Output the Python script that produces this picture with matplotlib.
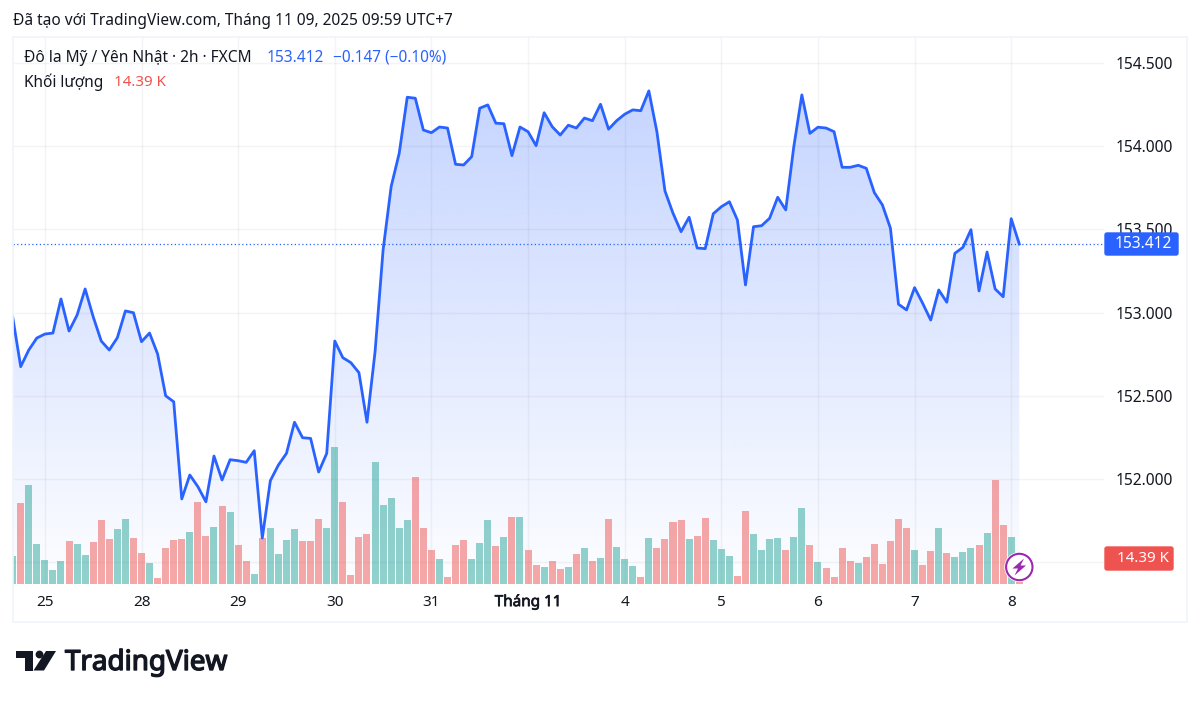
import numpy as np
import matplotlib
matplotlib.use("Agg")
import matplotlib.pyplot as plt
import matplotlib.patheffects as pe
from matplotlib.colors import to_rgb
from matplotlib.patches import Circle, FancyBboxPatch, Polygon, Rectangle

plt.rcParams['font.family'] = ['Noto Sans', 'DejaVu Sans']

# USD/JPY 2h closes
prices = [
    152.975, 152.675, 152.775, 152.847, 152.871, 152.877, 153.082, 152.889, 152.985, 153.142,
    152.975, 152.829, 152.775, 152.849, 153.010, 152.999, 152.825, 152.877, 152.751, 152.500,
    152.464, 151.880, 152.024, 151.954, 151.863, 152.138, 151.994, 152.116, 152.110, 152.100,
    152.170, 151.645, 151.990, 152.084, 152.154, 152.341, 152.248, 152.244, 152.042, 152.154,
    152.829, 152.729, 152.699, 152.639, 152.341, 152.763, 153.376, 153.757, 153.957, 154.294,
    154.288, 154.097, 154.081, 154.115, 154.109, 153.891, 153.887, 153.937, 154.228, 154.248,
    154.138, 154.135, 153.943, 154.115, 154.087, 154.003, 154.201, 154.117, 154.067, 154.126,
    154.109, 154.169, 154.153, 154.252, 154.102, 154.153, 154.192, 154.218, 154.213, 154.332,
    154.087, 153.731, 153.597, 153.486, 153.573, 153.388, 153.384, 153.594, 153.636, 153.666,
    153.556, 153.166, 153.516, 153.522, 153.567, 153.693, 153.617, 153.997, 154.308, 154.077,
    154.114, 154.109, 154.087, 153.873, 153.873, 153.885, 153.867, 153.721, 153.647, 153.507,
    153.050, 153.016, 153.150, 153.056, 152.955, 153.136, 153.062, 153.356, 153.392, 153.498,
    153.130, 153.364, 153.142, 153.095, 153.564, 153.412,
]

# volume in thousands
volumes = [
    15.5, 44.7, 55.0, 22.3, 13.5, 7.6, 12.6, 23.8, 22.3, 15.9,
    23.2, 35.3, 24.9, 30.3, 35.8, 25.3, 17.0, 11.5, 3.5, 19.9,
    24.4, 24.9, 28.8, 45.6, 26.4, 31.7, 43.2, 39.7, 21.4, 12.6,
    5.5, 25.3, 31.2, 16.4, 24.4, 30.3, 23.8, 23.8, 36.1, 31.2,
    75.7, 45.2, 5.0, 25.8, 27.7, 67.7, 43.6, 47.6, 30.8, 35.3,
    59.4, 31.2, 18.8, 13.8, 4.0, 21.4, 24.4, 13.8, 22.9, 35.3,
    20.9, 25.8, 37.1, 37.1, 18.8, 10.5, 9.4, 12.6, 8.5, 9.4,
    16.4, 19.9, 12.9, 14.4, 35.8, 20.3, 13.8, 10.0, 4.0, 25.3,
    19.9, 24.9, 34.3, 35.3, 24.9, 26.7, 36.7, 24.4, 19.4, 15.5,
    4.4, 40.2, 27.7, 18.8, 24.9, 25.3, 18.8, 25.8, 42.1, 21.4,
    12.0, 8.9, 4.0, 19.9, 12.6, 11.5, 14.9, 22.3, 10.9, 23.8,
    36.1, 31.2, 18.8, 10.5, 18.4, 31.2, 17.0, 14.9, 17.9, 19.9,
    21.4, 28.2, 57.6, 32.7, 25.8, 14.39,
]

# u = up bar, d = down bar
directions = [
    'u', 'd', 'u', 'u', 'u', 'u', 'u', 'd', 'u', 'u',
    'd', 'd', 'd', 'u', 'u', 'd', 'd', 'u', 'd', 'd',
    'd', 'd', 'u', 'd', 'd', 'u', 'd', 'u', 'd', 'd',
    'u', 'd', 'u', 'u', 'u', 'u', 'd', 'd', 'd', 'u',
    'u', 'd', 'd', 'd', 'd', 'u', 'u', 'u', 'u', 'u',
    'd', 'd', 'd', 'u', 'd', 'd', 'd', 'u', 'u', 'u',
    'd', 'u', 'd', 'u', 'd', 'd', 'u', 'd', 'd', 'u',
    'd', 'u', 'd', 'u', 'd', 'u', 'u', 'u', 'd', 'u',
    'd', 'd', 'd', 'd', 'u', 'd', 'd', 'u', 'u', 'u',
    'd', 'd', 'u', 'u', 'u', 'u', 'd', 'u', 'u', 'd',
    'u', 'd', 'd', 'd', 'd', 'u', 'd', 'd', 'd', 'd',
    'd', 'd', 'u', 'd', 'd', 'u', 'd', 'u', 'u', 'u',
    'd', 'u', 'd', 'd', 'u', 'd',
]

date_ticks = [4, 16, 28, 40, 52, 64, 76, 88, 100, 112, 124]
date_labels = ["25", "28", "29", "30", "31", "Tháng 11", "4", "5", "6", "7", "8"]
price_ticks = [151.5, 152.0, 152.5, 153.0, 153.5, 154.0, 154.5]
price_labels = ["", "152.000", "152.500", "153.000", "153.500", "154.000", "154.500"]

BLUE = "#2962ff"
RED = "#ef5350"
GREEN = "#26a69a"
DARK = "#131722"

fig = plt.figure(figsize=(12, 7.02), dpi=100, facecolor="white")


def pane_rect(left, top, right, bottom):
    return [left / 1200, 1 - bottom / 702, (right - left) / 1200, (bottom - top) / 702]


rect = pane_rect(13, 37, 1104, 584)
x = np.arange(len(prices))
x_lim = (0.043, 135.52)
y_lim = (151.369, 154.656)

# price pane: gradient and grid at the back
ax = fig.add_axes(rect, zorder=1)
ax.set_facecolor("none")
area = ax.fill_between(x, prices, y_lim[0], color="none")
gradient = np.zeros((256, 1, 4))
gradient[..., :3] = to_rgb(BLUE)
gradient[..., 3] = np.linspace(0.01, 0.27, 256)[:, None]
im = ax.imshow(gradient, origin="lower", aspect="auto", interpolation="bilinear",
               extent=(x[0], x[-1], y_lim[0], max(prices)), zorder=1)
im.set_clip_path(area.get_paths()[0], ax.transData)
ax.set_xlim(x_lim)
ax.set_ylim(y_lim)
ax.set_xticks(date_ticks)
ax.set_xticklabels(date_labels, fontsize=11, color=DARK)
# month label is heavier than the days, this font has no bold
ax.get_xticklabels()[5].set_path_effects([pe.withStroke(linewidth=0.5, foreground=DARK)])
ax.yaxis.tick_right()
ax.set_yticks(price_ticks)
ax.set_yticklabels(price_labels, fontsize=11.2, color=DARK)
ax.tick_params(axis="x", length=0, pad=8)
ax.tick_params(axis="y", length=0, pad=8)
ax.grid(True, color="#2a2e39", alpha=0.05, linewidth=1)
ax.set_axisbelow(False)
for spine in ax.spines.values():
    spine.set_visible(False)

# volume bars on their own scale
ax_vol = fig.add_axes(rect, zorder=2, sharex=ax)
ax_vol.set_ylim(0, 302.8)
bar_colors = [GREEN if d == 'u' else RED for d in directions]
ax_vol.bar(x, volumes, width=0.87, color=bar_colors, alpha=0.5, linewidth=0)
ax_vol.patch.set_visible(False)
ax_vol.axis("off")

# price line on top of the bars
ax_line = fig.add_axes(rect, zorder=3, sharex=ax)
ax_line.set_ylim(y_lim)
ax_line.plot(x, prices, color=BLUE, linewidth=2.0, solid_joinstyle="round")
ax_line.axhline(prices[-1], color=BLUE, linewidth=0.9, linestyle=(0, (1, 2)))
ax_line.patch.set_visible(False)
ax_line.axis("off")

# header, price tags and logo are placed in pixels
over = fig.add_axes([0, 0, 1, 1], zorder=5)
over.set_xlim(0, 1200)
over.set_ylim(702, 0)
over.axis("off")
over.patch.set_visible(False)

over.add_patch(Rectangle((13, 37), 1174, 585, fill=False, edgecolor="#f0f3fa", linewidth=1.2))

over.text(13, 21, "Đã tạo với TradingView.com, Tháng 11 09, 2025 09:59 UTC+7",
          fontsize=11.15, color=DARK, va="center")
over.text(24, 58, "Đô la Mỹ / Yên Nhật · 2h · FXCM", fontsize=11.15, color=DARK, va="center")
over.text(267, 58, "153.412", fontsize=11.15, color=BLUE, va="center")
over.text(333, 58, "−0.147 (−0.10%)", fontsize=11.1, color=BLUE, va="center")
over.text(24, 82, "Khối lượng", fontsize=11.1, color=DARK, va="center")
over.text(114, 82, "14.39 K", fontsize=10.9, color=RED, va="center")

over.add_patch(FancyBboxPatch((1105, 233), 73, 22, boxstyle="round,pad=0,rounding_size=2",
                              facecolor=BLUE, edgecolor=BLUE, linewidth=1))
over.text(1172, 244.5, "153.412", fontsize=11.2, color="white", va="center", ha="right")
over.add_patch(FancyBboxPatch((1105, 547), 68, 23, boxstyle="round,pad=0,rounding_size=2",
                              facecolor=RED, edgecolor=RED, linewidth=1))
over.text(1169, 558.5, "14.39 K", fontsize=10.9, color="white", va="center", ha="right")

# lightning badge
over.add_patch(Circle((1019.3, 567), 15, facecolor="white", edgecolor="none", zorder=3))
over.add_patch(Circle((1019.3, 567), 13.2, facecolor="white", edgecolor="#9c27b0",
                      linewidth=1.5, zorder=4))
over.add_patch(Polygon([(1024, 558.5), (1012.5, 568.5), (1018, 568.5), (1014.5, 575.5),
                        (1026, 565.5), (1020.5, 565.5)], facecolor="#9c27b0", edgecolor="none", zorder=5))

# TradingView logo
over.add_patch(Polygon([(16, 651), (32.5, 651), (32.5, 670.5), (24.5, 670.5), (24.5, 658), (16, 658)],
                       facecolor=DARK, edgecolor="none"))
over.add_patch(Circle((39.5, 654.5), 3.9, facecolor=DARK, edgecolor="none"))
over.add_patch(Polygon([(46, 651), (56, 651), (44, 670.5), (33.5, 670.5)],
                       facecolor=DARK, edgecolor="none"))
over.text(65, 663, "TradingView", fontsize=20, color=DARK, va="center",
          path_effects=[pe.withStroke(linewidth=1.0, foreground=DARK)])

fig.savefig("out.png", dpi=100)
